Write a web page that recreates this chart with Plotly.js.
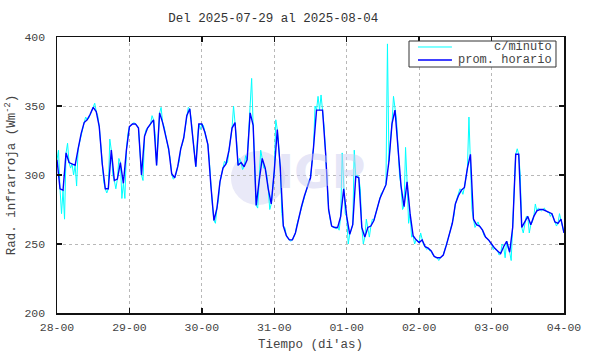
<!DOCTYPE html>
<html>
<head>
<meta charset="utf-8">
<script src="https://cdn.plot.ly/plotly-3.0.1.min.js"></script>
<style>html,body{margin:0;padding:0;background:#fff;}#chart{width:590px;height:354px;}</style>
</head>
<body>
<div id="chart"></div>
<script>
// Hourly averages (prom. horario), one value per hour from 2025-07-28 00:00 to 2025-08-04 00:00
const startDate = "2025-07-28T00:00:00Z";
const hourlyAvg = [
311,290,289,316,309,308,307,319,330,338,340,344,349,346,335,308,290,290,318,296,297,309,294,318,
335,337,337,334,300,328,334,337,340,307,345,338,329,319,301,298,306,319,327,343,348,327,306,337,
337,331,322,292,267,276,295,305,308,318,334,338,307,309,306,311,345,336,278,296,312,305,290,279,
303,333,305,263,256,253,253,258,268,277,285,291,298,320,347,347,347,316,275,263,262,262,270,290,
270,257,264,299,298,262,255,262,263,267,275,283,288,293,310,337,347,320,292,277,295,272,256,253,
251,253,248,247,245,241,240,240,242,249,257,265,279,285,289,291,305,315,268,264,263,260,255,253,
250,247,245,243,248,252,244,262,315,315,262,266,270,264,270,274,275,275,274,273,272,266,265,268,
258
];
// Per-minute readings (c/minuto), sampled at each half hour between the hourly points
const minuteMid = [
318,272,268,323,305,300,292,324,334,342,341,347,352,343,322,295,287,326,300,290,312,283,283,330,
336,338,336,318,296,333,335,343,330,330,349,335,326,312,297,301,310,322,335,349,340,318,325,333,
336,328,310,278,265,282,300,310,309,328,350,325,312,304,314,332,370,300,276,318,305,300,275,290,
340,320,272,262,254,252,255,264,273,281,289,296,312,350,357,358,335,290,268,262,261,260,316,272,
250,260,318,300,290,250,268,255,268,272,279,287,290,395,325,357,340,300,275,320,265,255,250,252,
258,249,246,245,242,240,238,241,246,253,261,270,283,290,286,297,342,275,262,266,262,256,254,251,
246,246,242,250,240,247,238,290,319,300,258,270,258,266,279,276,274,276,273,270,268,263,272,262
];
const seriesNames = ["c/minuto", "prom. horario"];
const seriesColors = ["#00ffff", "#0000ff"];
const titleText = "Del 2025-07-29 al 2025-08-04";
const xTitle = "Tiempo (di'as)";
const yTitle = "Rad. infrarroja (Wm<sup>-2</sup>)";

const t0 = Date.parse(startDate);
const HOUR = 3600000;
const xHourly = hourlyAvg.map((v, i) => t0 + i * HOUR);
const xMin = [], yMin = [];
for (let i = 0; i < minuteMid.length; i++) {
  xMin.push(t0 + i * HOUR); yMin.push(hourlyAvg[i]);
  xMin.push(t0 + (i + 0.5) * HOUR); yMin.push(minuteMid[i]);
}
xMin.push(t0 + (hourlyAvg.length - 1) * HOUR); yMin.push(hourlyAvg[hourlyAvg.length - 1]);

const mono = "Liberation Mono, Courier New, monospace";
const txtColor = "#444";
const traces = [
  {x: xMin, y: yMin, type: "scatter", mode: "lines", name: seriesNames[0],
   line: {color: seriesColors[0], width: 1}},
  {x: xHourly, y: hourlyAvg, type: "scatter", mode: "lines", name: seriesNames[1],
   line: {color: seriesColors[1], width: 1.4}}
];
const axisCommon = {
  showline: true, mirror: "ticks", linecolor: "#111", linewidth: 1.5,
  ticks: "inside", ticklen: 5, tickcolor: "#111", tickwidth: 1.5,
  showgrid: true, gridcolor: "#b8b8b8", griddash: "dot", gridwidth: 1,
  zeroline: false, tickfont: {family: mono, size: 11.5, color: txtColor}
};

// compact legend box drawn in the top-right corner of the plot
const legShapes = [
  {type: "rect", xref: "paper", yref: "paper", x0: 0.6943, x1: 0.9842, y0: 0.8913, y1: 0.9855,
   fillcolor: "#fff", line: {color: "#333", width: 1}, layer: "above"}
];
const legAnn = [];
const legY = [0.9638, 0.9167];
seriesNames.forEach((n, i) => {
  legShapes.push({type: "line", xref: "paper", yref: "paper", x0: 0.712, x1: 0.779, y0: legY[i], y1: legY[i],
    line: {color: seriesColors[i], width: i ? 1.4 : 1}, layer: "above"});
  legAnn.push({text: n, xref: "paper", yref: "paper", x: 0.981, y: legY[i], xanchor: "right", yanchor: "middle",
    showarrow: false, font: {family: mono, size: 12, color: txtColor}});
});

const layout = {
  width: 590, height: 354,
  margin: {l: 57, r: 26, t: 37, b: 41},
  paper_bgcolor: "#fff", plot_bgcolor: "#fff",
  font: {family: mono, color: txtColor},
  title: {text: titleText, font: {family: mono, size: 12.5, color: "#333"},
          xref: "container", x: 0.463, xanchor: "center", yref: "container", y: 0.95, yanchor: "middle"},
  xaxis: Object.assign({}, axisCommon, {
    type: "date", range: ["2025-07-28 00:00", "2025-08-04 00:00"],
    tick0: "2025-07-28 00:00", dtick: 86400000, tickformat: "%d-%H",
    ticklabelstandoff: 3,
    title: {text: xTitle, font: {family: mono, size: 12.5, color: txtColor}, standoff: 6}
  }),
  yaxis: Object.assign({}, axisCommon, {
    range: [200, 400], dtick: 50, tick0: 200, ticklabelstandoff: 8,
    title: {text: yTitle, font: {family: mono, size: 12.5, color: txtColor}, standoff: 6}
  }),
  shapes: [
    {type: "circle", xref: "paper", yref: "paper", x0: 0.343, x1: 0.450, y0: 0.391, y1: 0.587,
     fillcolor: "rgba(224,224,245,0.7)", line: {width: 0}, layer: "below"}
  ].concat(legShapes),
  annotations: [
    {text: "<b>IGP</b>", xref: "paper", yref: "paper", x: 0.521, y: 0.511, showarrow: false,
     font: {family: "DejaVu Sans", size: 46, color: "rgba(205,205,240,0.5)"}}
  ].concat(legAnn),
  showlegend: false
};
Plotly.newPlot("chart", traces, layout, {displayModeBar: false, staticPlot: true});
</script>
</body>
</html>
